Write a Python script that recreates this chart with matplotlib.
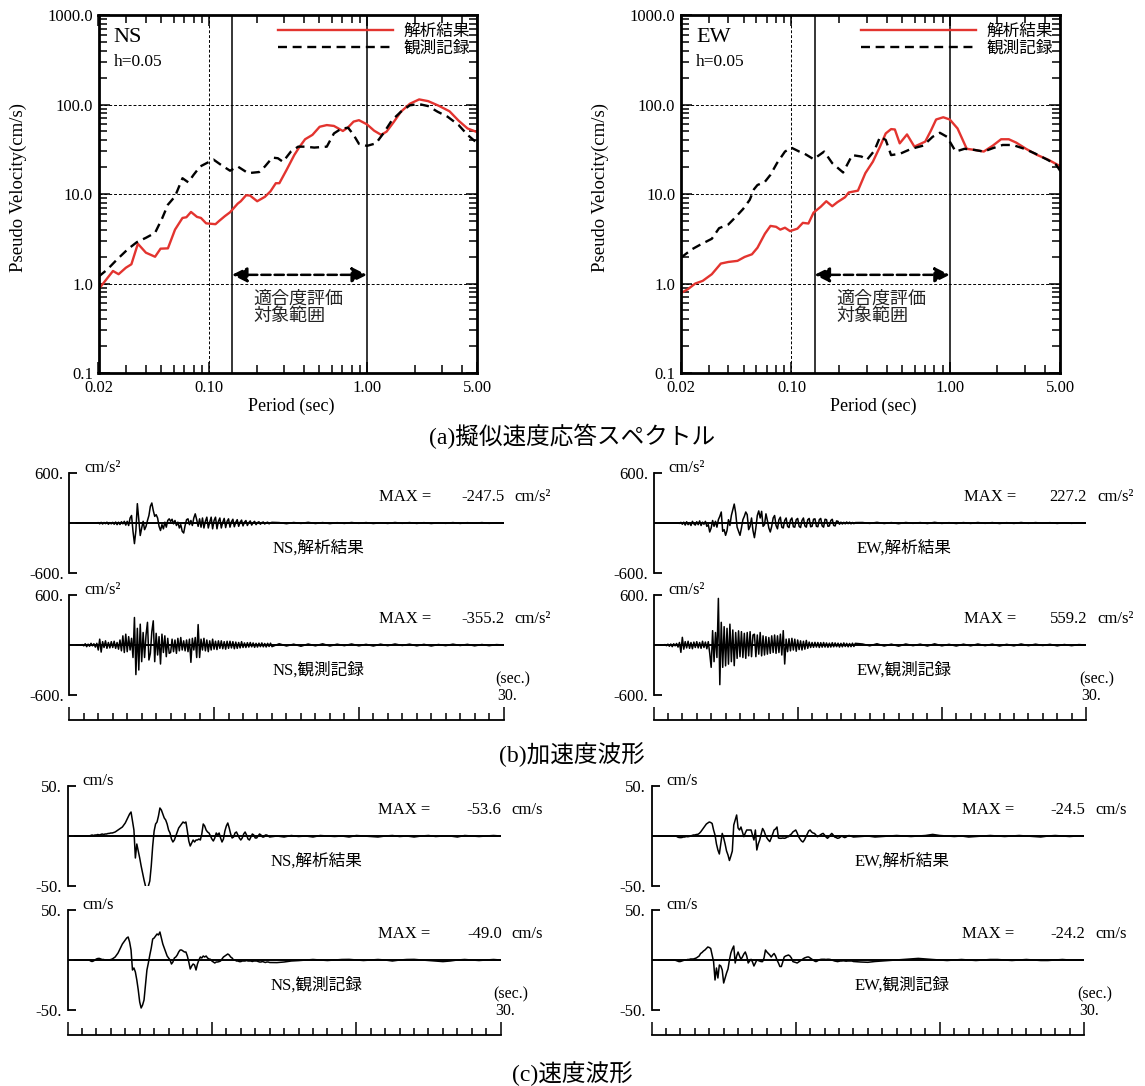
#######################################################
# imports

import numpy as np
import matplotlib.pyplot as plt
from matplotlib.ticker import NullFormatter

plt.rcParams['font.family'] = ['Liberation Serif', 'Noto Sans CJK JP']

#######################################################
# pseudo velocity response spectra (h=0.05)

ns_ana_T = [0.02, 0.0247, 0.0268, 0.0298, 0.0323, 0.0355, 0.0399, 0.0456, 0.0494, 0.055,
            0.061, 0.068, 0.072, 0.077, 0.084, 0.089, 0.096, 0.110, 0.116, 0.126,
            0.136, 0.152, 0.159, 0.172, 0.182, 0.202, 0.226, 0.245, 0.265, 0.279,
            0.310, 0.347, 0.375, 0.406, 0.452, 0.502, 0.557, 0.618, 0.704, 0.760,
            0.823, 0.89, 1.0, 1.11, 1.23, 1.33, 1.48, 1.64, 1.87, 2.14,
            2.44, 2.84, 3.33, 3.80, 4.33, 5.0]
ns_ana_V = [0.86, 1.38, 1.27, 1.5, 1.64, 2.78, 2.21, 1.99, 2.45, 2.47,
            4.0, 5.4, 5.5, 6.3, 5.55, 5.4, 4.7, 4.6, 5.0, 5.65,
            6.25, 7.8, 8.3, 9.7, 9.6, 8.3, 9.3, 10.7, 13.2, 13.2,
            18.6, 27.3, 33.8, 40.9, 45.8, 56.4, 58.9, 57.6, 50.6, 55.6,
            64.4, 66.8, 60, 51, 45.8, 49.7, 64, 83, 102, 114,
            109, 97, 84, 66, 54, 49]

ns_obs_T = [0.02, 0.0228, 0.026, 0.0306, 0.035, 0.0399, 0.0456, 0.0507, 0.055, 0.061,
            0.068, 0.074, 0.080, 0.088, 0.097, 0.107, 0.119, 0.136, 0.152, 0.177,
            0.208, 0.226, 0.252, 0.273, 0.294, 0.330, 0.367, 0.406, 0.464, 0.557,
            0.618, 0.688, 0.760, 0.823, 0.890, 1.0, 1.14, 1.27, 1.44, 1.64,
            1.87, 2.14, 2.44, 2.80, 3.24, 3.80, 4.33, 5.0]
ns_obs_V = [1.19, 1.44, 1.83, 2.41, 2.9, 3.24, 3.68, 5.4, 7.6, 9.4,
            15.0, 13.5, 16.4, 20.3, 22.2, 24.2, 21.2, 18.2, 20.3, 17.1,
            17.6, 20.3, 25.5, 25.1, 22.9, 29.8, 33.8, 33.8, 33.0, 33.8,
            47.5, 53.7, 55.0, 45.8, 36.3, 34.5, 36.8, 47.5, 66.8, 83,
            98, 101, 96, 83, 73, 59, 45.8, 36.8]

ew_ana_T = [0.02, 0.0222, 0.0247, 0.0275, 0.0314, 0.0358, 0.0399, 0.0456, 0.0506, 0.0563,
            0.061, 0.068, 0.0737, 0.080, 0.085, 0.091, 0.098, 0.109, 0.118, 0.128,
            0.138, 0.153, 0.166, 0.181, 0.195, 0.218, 0.230, 0.263, 0.293, 0.327,
            0.363, 0.394, 0.426, 0.450, 0.483, 0.537, 0.598, 0.70, 0.76, 0.82,
            0.91, 1.0, 1.12, 1.28, 1.43, 1.64, 1.87, 2.11, 2.36, 2.63,
            3.03, 3.55, 4.20, 5.0]
ew_ana_V = [0.78, 0.865, 1.0, 1.07, 1.27, 1.67, 1.74, 1.79, 1.98, 2.12,
            2.51, 3.6, 4.4, 4.3, 4.0, 4.2, 3.85, 4.1, 4.76, 4.68,
            6.2, 7.2, 8.3, 7.3, 8.1, 9.2, 10.4, 10.9, 17.1, 23,
            34, 47.5, 53.1, 52.6, 36.8, 46.3, 33.8, 38.5, 51, 68,
            72, 68, 54, 32, 31.1, 29.8, 34.7, 40.9, 40.9, 37.5,
            32, 27.4, 24.1, 20.4]

ew_obs_T = [0.02, 0.0235, 0.0268, 0.0314, 0.0349, 0.0399, 0.0445, 0.0495, 0.0545, 0.058,
            0.061, 0.068, 0.0737, 0.081, 0.091, 0.100, 0.112, 0.121, 0.138, 0.161,
            0.181, 0.212, 0.242, 0.277, 0.300, 0.334, 0.363, 0.394, 0.426, 0.486,
            0.572, 0.68, 0.78, 0.866, 0.96, 1.09, 1.24, 1.43, 1.64, 1.87,
            2.16, 2.50, 2.96, 3.48, 4.15, 4.7, 5.0]
ew_obs_V = [1.94, 2.41, 2.74, 3.16, 4.15, 4.56, 5.55, 6.8, 8.6, 11.3,
            12.6, 13.7, 16.4, 22.1, 29.8, 32.9, 29.8, 28.2, 24.5, 29.8,
            22.1, 17.4, 27.2, 26.2, 24.1, 30.5, 43.6, 40.2, 27.2, 28.2,
            32, 34.7, 43.6, 48.3, 43.6, 29.8, 32, 31.1, 29.8, 32.5,
            35.3, 35.3, 32, 28.2, 24.1, 21.2, 18.0]

# evaluation range of the fit (sec) and level of the arrow
fit_range = [0.14, 1.0]
arrow_level = 1.25

#######################################################
# waveforms: samples every 0.1 s from 0.5 s to 14.0 s, then every 0.5 s to 30 s

ns_acc_ana = [0, 0, 0, 0, 0, 0, 0, 0, 0, 0, 0, 0, 0, 0, 0,
              5, -10, 8, -12, 6, -8, 10, -15, 5, -10,
              8, -15, 12, -20, 10, -18, 15, -10, 20, -25,
              20, -30, 60, 90, -100, -247.5, -90, 232, 40, -150,
              -60, 20, -80, -40, 30, 90, 200, 240, 150, 80,
              100, 60, -40, -90, -20, -70, 10, -50, 30, 50,
              20, 45, -10, 30, -30, 10, -60, -20, -100, -120,
              -30, 40, 50, -20, 30, -30, 60, 110, 40, -40,
              50, -50, 60, -60, 20, 70, -60, 10, 70, -70,
              30, 70, -70, 20, 60, -60, 10, 55, -55, 20,
              50, -50, 15, 45, -45, 10, 40, -40, 10, 35,
              -35, 10, 30, -30, 5, 25, -25, 5, 20, -20,
              5, 15, -15, 5, 12, -12, 3, 10, -10, 3,
              8]
ns_acc_ana_tail = [5, -8, 6, -5, 8, -6, 5, -7, 4, -5, 6, -4, 5, -6, 3, -5,
                   6, -4, 5, -5, 4, -6, 3, -4, 5, -5, 4, -3, 5, -4, 3, 0]

ns_acc_obs = [0, 0, 0, 0, 5,
              -10, 15, -20, 10, -15, 20, -10, 15, -25, 20,
              -60, 70, -85, 40, -30, 50, -40, 30, -35, 40,
              -30, 45, -40, 30, -50, 60, -70, 110, -90, 130,
              -80, 100, -60, 80, -150, 330, -355.2, 200, -300, 250,
              -200, 150, -150, 120, 272, -180, -100, 160, 290, -200,
              140, -120, 100, -228, 130, -90, 110, -140, 80, -100,
              -90, 70, -80, 60, -100, 80, -70, 90, -60, 50,
              -70, 60, -80, 70, -208, 80, -60, 90, -150, 245,
              -150, 70, -60, 80, -70, 60, -80, 50, -60, 70,
              -50, 45, -55, 50, -40, 50, -45, 40, -50, 45,
              -40, 45, -35, 40, -45, 35, -40, 30, -35, 40,
              -30, 25, -30, 28, -25, 30, -22, 25, -28, 20,
              -25, 22, -20, 25, -22, 18, -24, 20, -18, 22,
              -20]
ns_acc_obs_tail = [15, -12, 10, -15, 12, -10, 14, -12, 10, -8, 12, -10, 8, -12, 10, -8,
                   12, -6, 10, -10, 8, -12, 6, -8, 10, -6, 8, -10, 6, -8, 5, 0]

ew_acc_ana = [0, 0, 0, 0, 0,
              0, 0, 0, 0, 0, 0, 0, 0, -5, 8,
              -15, 10, -25, 15, -20, 5, -30, 20, -10, -25,
              15, -20, 25, -30, 10, -15, 20, -40, -20, -108,
              -60, 30, -40, 20, -50, 40, 80, 132, -100, -80,
              -148, -90, 40, -30, 90, 160, 227.2, 120, -50, -100,
              -148, -60, 40, 80, 132, 100, -80, -40, 60, -90,
              -176, -60, 90, 145, 60, 140, -40, -20, 110, 30,
              -60, -108, -40, 60, 90, -30, -70, 40, 70, -50,
              -60, 30, 60, -40, -55, 35, 60, -45, -50, 40,
              55, -40, -55, 30, 60, -35, -50, 40, 55, -45,
              -40, 45, 50, -40, -45, 40, 55, -35, -50, 45,
              40, -40, -35, 30, 45, -30, -35, 25, 20, -15,
              10, -12, 8, -10, 12, -8, 10, -10, 6, -8,
              5]
ew_acc_ana_tail = [6, -5, 8, -6, 5, -8, 6, -4, 5, -6, 8, -5, 4, -6, 5, -5,
                   6, -4, 5, -6, 4, -5, 6, -4, 5, -3, 4, -5, 3, -4, 3, 0]

ew_acc_obs = [0, 0, 0, 5, -8,
              10, -15, 12, -20, 15, -10, 18, -25, 30, -88,
              92, -50, 40, -35, 45, -40, 30, -45, 35, -30,
              40, -35, 30, -40, 45, -30, 35, -45, 40, -100,
              -268, 172, -200, 150, -150, 559.2, -476, 272, -268, 220,
              -250, 200, -230, 250, -200, 180, -248, 150, -160, 170,
              -140, 160, -150, 140, -160, 150, -130, 160, -140, 120,
              130, -140, 120, -110, 150, -130, 110, -120, 100, -110,
              90, -100, 110, -90, 120, -100, 110, -90, 130, -120,
              172, -228, 70, -80, 75, -70, 80, -60, 70, -75,
              60, -55, 50, -60, 45, -50, 55, -40, 35, -30,
              30, -28, 32, -25, 30, -30, 28, -26, 30, -25,
              25, -28, 22, -25, 28, -22, 25, -20, 22, -25,
              20, -22, 25, -18, 20, -22, 18, -20, 22, -18,
              20]
ew_acc_obs_tail = [12, -10, 15, -12, 10, -14, 12, -8, 10, -12, 14, -10, 8, -12, 10, -10,
                   12, -8, 10, -12, 8, -10, 12, -8, 10, -6, 8, -10, 6, -8, 5, 0]

ns_vel_ana = [0, 0, 0, 0, 0,
              0, 0, 0, 0, 0, 0, 0.5, 1, 0.5, 1,
              1, 1.5, 1, 1.5, 2, 1.5, 2, 2, 2.5, 2.6,
              3, 3, 3.5, 4, 5, 6, 7, 8, 9, 11,
              13, 16, 19, 22, 24, 15, 6, -22, -8, -15,
              -22, -30, -37, -44, -50, -53.6, -50, -45, -30, -10,
              5, 12, 14, 20, 28, 26, 22, 18, 16, 12,
              6, 3, -3, -6, -4, 0, 4, 8, 10, 12,
              14, 13, 14, 5, -5, -10, -7, -4, -6, -4,
              -4, -3, -4, 2, 12, 10, 6, 4, 3, 0,
              -3, -5, -2, 3, 1, 3, -2, -6, -3, 5,
              10, 13, 8, 2, -2, -1, 3, 4, 1, -2,
              -4, -2, 2, 4, 1, -3, -4, -1, 2, 1,
              -2, -2, 0, 2, 1, -1, -1, 1, 1, 0,
              -1]
ns_vel_ana_tail = [0, -1, 0.5, -0.5, 0, -1, 0.5, 0, -0.5, 0, -1, 0.5, 0, -0.5, -1, 0,
                   0.5, -0.5, 0, -1, 0, 0.5, -0.5, 0, 0, -1, 0.5, 0, -0.5, 0, 0.5, 0]

ns_vel_obs = [0, 0, 0, 0, 0,
              0, 0, 0, 0, 0, 0, -1, -1.5, -1, 0,
              1, 1.5, 1.6, 1, 0.5, 0.5, 0, 0, 0, 0,
              0.5, 1, 2, 3, 5, 7, 10, 13, 16, 18,
              20, 22, 23, 18, 10, -10, -8, -12, -20, -30,
              -42, -48, -45, -40, -25, -10, -3, 5, 12, 21,
              22, 24, 26, 25, 28, 22, 16, 12, 8, 4,
              2, 0, -4, -2, 2, 3, 5, 8, 10, 10,
              9, 8, 8, 4, -2, -9, -6, -4, -5, -10,
              -4, 0, 3, 2, 4, 3, 4, 2, 1, 0.7,
              -1, -2, -3, -2, -2, -1.6, -1, 1, 3, 4,
              5, 6, 5, 3, 2, 0, 0, -1, -1, -1.6,
              -1.6, -1, -1, -1, -0.5, -1, -1, -1, -1.5, -1,
              -1, -1, -1.5, -2, -2, -1.5, -2, -2.5, -2, -2,
              -2.5]
ns_vel_obs_tail = [-2.6, -2, -1, -0.6, 0, 0.5, 0, -0.5, 0, 0.5, 0.6, 0, -0.5, 0, 0.5, 0,
                   -1, 0, 0.5, 0.6, 0, -0.5, -1, -1.6, -1, 0, 0.5, 0, -0.5, 0, 0.5, 0]

ew_vel_ana = [0, 0, 0, 0, 0,
              0, 0, 0, 0, 0, 0, 0, 0, -1, -1.5,
              -1.6, -1.5, -1, -1, -0.5, -0.7, -0.5, 0, 0.5, 1,
              1, 1.5, 1.6, 2.5, 4, 6, 8, 10, 12, 13,
              14, 13.5, 12.5, 6, 1, -8, -14, -18, -8, 2.6,
              -2, -8, -15, -19, -24.5, -20, -15, 11, 16, 21,
              8, 6, 9, 4, -0.7, 3, 6, 6, 6, 6,
              1, -4, 6, -14, -8, -4, 2, 7.5, 5, 1,
              -2, -4, -5.6, -2, 2, 6, 7, 9, -2, -2.3,
              -2.3, -2, -2.3, -2, -1, -0.7, 1, 2, 4, 5,
              6, 3, -0.7, -3, -5, -6, -4, -1, 2, 5,
              6, 4, 3, 2.6, 1, -0.7, 0, 1, 2, 2.6,
              1, -1, -2.3, -1, 1, 2.6, 1, -1, -1.5, -2.3,
              -2, -1, 0, -1, -1.6, -1, 0, 0.5, 0, -0.5,
              -1]
ew_vel_ana_tail = [-0.5, 0, -1, -0.5, 0, 0.5, 0, -0.5, 0, 0.5, 1.6, 0.5, 0, -0.5, 0, -1,
                   -0.5, 0, 0.5, 0, -0.5, 0, 0.5, 0, -0.5, -1, 0, 0.5, 0, -0.5, 0, 0]

ew_vel_obs = [0, 0, 0, 0, 0,
              0, 0, 0, 0, 0, 0, 0, -0.5, -1, -1.6,
              -1.5, -1, -0.5, 0, 0, 0.5, 0.5, 1, 1, 1,
              1.5, 2, 3, 4, 6.5, 7.5, 9, 10, 11.5, 13,
              12.5, 11.5, 5, -1.6, -20, -8, -18, -5, -6, -10,
              -23, -18, -13, -9, 0, 7, 11, 14, -3, 4,
              8, 4, 0.7, 3, 6, 8, 4, -3, -1, 0.7,
              -2, -6, -3, 0, -0.5, -1, -1.6, -1.6, 2, 10,
              8, 6.5, 5, 3, 5, 6.5, 4, 0, -3, -6.5,
              -6.5, -2, 3, 4, 4.5, 5, 4, 2, -1.6, -2,
              -2.5, -3, -2, -1, 0, 1, 2, 2.5, 3, 3,
              2, 1, 0, -1, -1.6, -1, 0, 0.5, 0.7, 0.7,
              0.7, 0.5, 0.7, 0.7, 0.5, 0, -0.5, -1, -1.3, -1.6,
              -1.3, -1, -1, -0.8, -1, -1.2, -1, -1, -1, -1,
              -1.5]
ew_vel_obs_tail = [-2, -2.3, -1.5, -1, -0.5, 0, 0.5, 1, 1.6, 1, 0.5, 0, -0.5, 0, 0.5, 0,
                   -0.5, 0, 0.5, 0.5, 0, -0.5, 0, 0.5, 0, -0.5, -0.5, 0, 0.5, 0, 0, 0]

# peak values printed on the panels
acc_max = [-247.5, -355.2, 227.2, 559.2]
vel_max = [-53.6, -49.0, -24.5, -24.2]

#######################################################
# figure in pixel units

W, H = 1145, 1086
fig = plt.figure(figsize=(W / 100, H / 100), dpi=100)
RED = '#e3342f'
CJK = 'Noto Sans CJK JP'


def box(x0, y0, x1, y1):
    ax = fig.add_axes([x0 / W, 1 - y1 / H, (x1 - x0) / W, (y1 - y0) / H])
    ax.set_facecolor('none')
    return ax


def ftext(x, y, s, **kw):
    kw.setdefault('va', 'center')
    kw.setdefault('fontsize', 12)
    fig.text(x / W, 1 - y / H, s, **kw)


#######################################################
# (a) spectra

def spectrum(x0, x1, comp, T_a, V_a, T_o, V_o):
    ax = box(x0, 15, x1, 373)
    ax.set_xscale('log')
    ax.set_yscale('log')
    for v in [1, 10, 100]:
        ax.axhline(v, color='k', lw=0.7, ls=(0, (3, 2)))
    ax.axvline(0.1, color='k', lw=0.7, ls=(0, (3, 2)))
    ax.axvline(fit_range[0], color='k', lw=1.1)
    ax.axvline(fit_range[1], color='k', lw=1.1)

    ax.plot(T_a, V_a, color=RED, lw=1.7, label='解析結果')
    ax.plot(T_o, V_o, color='k', lw=1.7, ls=(0, (3.8, 2.4)), label='観測記録')

    ax.annotate('', xy=(fit_range[1], arrow_level), xytext=(fit_range[0], arrow_level),
                arrowprops=dict(arrowstyle='<|-|>,head_length=0.9,head_width=0.45',
                                color='k', lw=1.8, ls='--', shrinkA=0, shrinkB=0))
    ax.text(0.409, 0.232, '適合度評価\n対象範囲', transform=ax.transAxes, va='top', ha='left',
            fontsize=13, family=CJK, linespacing=0.95, color='#222222')

    ax.set_xlim(0.02, 5.0)
    ax.set_ylim(0.1, 1000.0)
    ax.set_xticks([0.02, 0.1, 1.0, 5.0])
    ax.set_xticklabels(['0.02', '0.10', '1.00', '5.00'])
    ax.set_xticks([k * d for d in (0.01, 0.1, 1.0) for k in range(2, 10)
                   if 0.02 < k * d < 5.0 and k * d not in (0.1, 1.0)], minor=True)
    ax.set_yticks([0.1, 1, 10, 100, 1000])
    ax.set_yticklabels(['0.1', '1.0', '10.0', '100.0', '1000.0'])
    ax.set_yticks([k * d for d in (0.1, 1, 10, 100) for k in range(2, 10)], minor=True)
    ax.xaxis.set_minor_formatter(NullFormatter())
    ax.yaxis.set_minor_formatter(NullFormatter())
    ax.tick_params(which='both', direction='in', top=True, right=True, width=1.1, labelsize=12)
    ax.tick_params(which='major', length=8)
    ax.tick_params(which='minor', length=6)
    ax.tick_params(axis='x', pad=5)
    ax.tick_params(axis='y', pad=4)
    for s in ax.spines.values():
        s.set_linewidth(2.0)

    ax.text(0.04, 0.936, comp, transform=ax.transAxes, fontsize=16, va='center')
    ax.text(0.04, 0.869, 'h=0.05', transform=ax.transAxes, fontsize=12.5, va='center')
    ax.legend(loc='upper right', frameon=False, handlelength=6.9, handletextpad=0.6,
              labelspacing=0.0, borderaxespad=0.2, borderpad=0.25,
              prop={'family': CJK, 'size': 12})

    ftext(x0 - 80, 187, 'Pseudo Velocity(cm/s)', rotation=90, ha='center', fontsize=13.5)
    ftext((x0 + x1) / 2 + 3, 406, 'Period (sec)', ha='center', fontsize=13)


spectrum(98.5, 477.4, 'NS', ns_ana_T, ns_ana_V, ns_obs_T, ns_obs_V)
spectrum(680.8, 1060.4, 'EW', ew_ana_T, ew_ana_V, ew_obs_T, ew_obs_V)
ftext(572, 436, '(a)擬似速度応答スペクトル', ha='center', fontsize=17)

#######################################################
# (b), (c) waveforms


def wave(x0, x1, y0, y1, vals, tail, lim, unit, peak, name, last):
    ax = box(x0, y0, x1, y1)
    t = np.concatenate([0.5 + 0.1 * np.arange(len(vals)), 14.5 + 0.5 * np.arange(len(tail))])
    v = np.concatenate([vals, tail])
    ax.axhline(0, color='k', lw=1.4)
    ax.plot(t, v, color='k', lw=1.1)
    ax.set_xlim(0, 30)
    ax.set_ylim(-lim, lim)
    for s in ['top', 'right', 'bottom']:
        ax.spines[s].set_visible(False)
    ax.spines['left'].set_linewidth(1.3)
    ax.set_xticks([])
    ax.set_yticks([lim, -lim])
    ax.set_yticklabels([f'{lim}.', f'-{lim}.'])
    ax.tick_params(axis='y', direction='in', length=6, width=1.3, pad=4, labelsize=12)

    ftext(x0 + 15, y0 - 5, unit)
    ftext(x0 + 310, y0 + 24, 'MAX =')
    ftext(x1 + 1, y0 + 24, f'{peak:.1f}', ha='right')
    ftext(x1 + 11, y0 + 24, unit)
    ftext(x0 + 203, y0 + 75, name)
    if last:
        ftext(x0 + 426, y0 + 84, '(sec.)', fontsize=11.5)
        ftext(x0 + 428, y0 + 101, '30.', fontsize=11.5)


def time_axis(x0, x1, y):
    ax = box(x0, y - 20, x1, y)
    ax.set_xlim(0, 30)
    ax.set_ylim(0, 1)
    for s in ['top', 'right', 'left']:
        ax.spines[s].set_visible(False)
    ax.spines['bottom'].set_linewidth(1.3)
    ax.set_yticks([])
    ax.set_xticks([0, 10, 20, 30])
    ax.set_xticks(np.arange(31), minor=True)
    ax.tick_params(axis='x', which='both', direction='in', width=1.1, labelbottom=False)
    ax.tick_params(axis='x', which='major', length=9.5)
    ax.tick_params(axis='x', which='minor', length=5)


ACC = 'cm/s²'
VEL = 'cm/s'

wave(69.3, 503.6, 473, 573, ns_acc_ana, ns_acc_ana_tail, 600, ACC, acc_max[0], 'NS,解析結果', False)
wave(69.3, 503.6, 595, 695, ns_acc_obs, ns_acc_obs_tail, 600, ACC, acc_max[1], 'NS,観測記録', True)
wave(653.5, 1086, 473, 573, ew_acc_ana, ew_acc_ana_tail, 600, ACC, acc_max[2], 'EW,解析結果', False)
wave(653.5, 1086, 595, 695, ew_acc_obs, ew_acc_obs_tail, 600, ACC, acc_max[3], 'EW,観測記録', True)
time_axis(69.3, 503.6, 720)
time_axis(653.5, 1086, 720)
ftext(572, 755, '(b)加速度波形', ha='center', fontsize=17)

wave(67.5, 500.7, 786, 886, ns_vel_ana, ns_vel_ana_tail, 50, VEL, vel_max[0], 'NS,解析結果', False)
wave(67.5, 500.7, 910, 1010, ns_vel_obs, ns_vel_obs_tail, 50, VEL, vel_max[1], 'NS,観測記録', True)
wave(651.6, 1084, 786, 886, ew_vel_ana, ew_vel_ana_tail, 50, VEL, vel_max[2], 'EW,解析結果', False)
wave(651.6, 1084, 910, 1010, ew_vel_obs, ew_vel_obs_tail, 50, VEL, vel_max[3], 'EW,観測記録', True)
time_axis(67.5, 500.7, 1035)
time_axis(651.6, 1084, 1035)
ftext(572, 1074, '(c)速度波形', ha='center', fontsize=17)

plt.savefig('out.png', dpi=100)
plt.close()
